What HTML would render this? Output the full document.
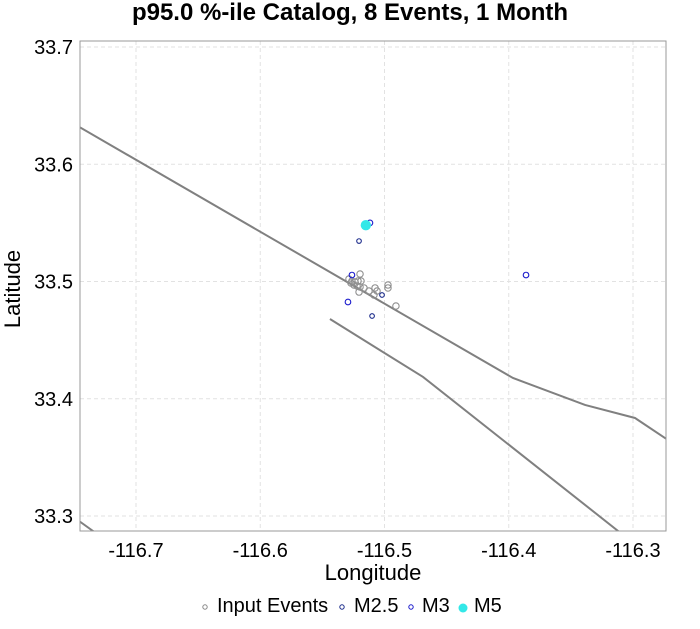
<!DOCTYPE html>
<html><head><meta charset="utf-8"><style>
body{margin:0;background:#fff;font-family:"Liberation Sans",sans-serif}
svg text{font-family:"Liberation Sans",sans-serif}
</style></head><body>
<svg id="chart" width="700" height="624">
<text x="350" y="20" text-anchor="middle" font-size="24" font-weight="bold">p95.0 %-ile Catalog, 8 Events, 1 Month</text>
<g id="grid"></g>
<g id="faults"></g>
<g id="pts"></g>
<rect x="80" y="41" width="586" height="490" fill="none" stroke="#999"/>
<g id="ticks"></g>
<text x="373" y="580" text-anchor="middle" font-size="22">Longitude</text>
<text transform="translate(20,289) rotate(-90)" text-anchor="middle" font-size="22">Latitude</text>
<g font-size="20">
<g><circle cx="205" cy="607" r="2.2" fill="none" stroke="#888"/><text x="217" y="612">Input Events</text></g>
<g><circle cx="342" cy="607" r="2.2" fill="none" stroke="#1a2a8a"/><text x="354" y="612">M2.5</text></g>
<g><circle cx="411" cy="607" r="2.2" fill="none" stroke="#1a1acc"/><text x="422" y="612">M3</text></g>
<g><circle cx="463" cy="608" r="4.5" fill="#33e8e8"/><text x="474" y="612">M5</text></g>
</g>
</svg>
<script>
const xTicks=[-116.7,-116.6,-116.5,-116.4,-116.3];
const yTicks=[33.3,33.4,33.5,33.6,33.7];
const inputLon=[-116.5197,-116.5286,-116.5262,-116.5237,-116.5213,-116.5189,-116.527,-116.5246,-116.5221,-116.5197,-116.5165,-116.5205,-116.5125,-116.5076,-116.506,-116.5085,-116.4972,-116.4972,-116.4908];
const inputLat=[33.5064,33.5021,33.5004,33.4996,33.5004,33.5004,33.4987,33.497,33.4962,33.4953,33.4945,33.491,33.4919,33.4945,33.4919,33.4885,33.497,33.4945,33.4791];
const m25Lon=[-116.5205,-116.51,-116.502];
const m25Lat=[33.5345,33.4706,33.4885];
const m3Lon=[-116.5117,-116.5262,-116.5294,-116.3861];
const m3Lat=[33.550,33.5055,33.4825,33.5055];
const m5Lon=[-116.515];
const m5Lat=[33.548];
const fault1Lon=[-116.76,-116.3966,-116.3386,-116.2984,-116.2742,-116.25];
const fault1Lat=[33.6406,33.4177,33.3947,33.3836,33.3665,33.35];
const fault2Lon=[-116.5439,-116.469,-116.312,-116.2944];
const fault2Lat=[33.468,33.4186,33.2872,33.2727];
const fault3Lon=[-116.76,-116.7346,-116.72];
const fault3Lat=[33.3065,33.2872,33.277];

const NS="http://www.w3.org/2000/svg";
const X=v=>136+(v+116.7)*1242.5;
const Y=v=>47+(33.7-v)*1172.5;
function mk(t,a,p){const e=document.createElementNS(NS,t);for(const k in a)e.setAttribute(k,a[k]);p.appendChild(e);return e;}
const grid=document.getElementById('grid'),ticks=document.getElementById('ticks');
xTicks.forEach(v=>{
 const l=mk('line',{x1:X(v),x2:X(v),y1:41,y2:531,stroke:'#e2e2e2','stroke-dasharray':'4,3'},grid);
 
 
 const t=mk('text',{x:X(v),y:557,'text-anchor':'middle','font-size':'20'},ticks);t.textContent=v.toFixed(1);
 
 
});
yTicks.forEach(v=>{
 const l=mk('line',{x1:80,x2:666,y1:Y(v),y2:Y(v),stroke:'#e2e2e2','stroke-dasharray':'4,3'},grid);
 
 
 const t=mk('text',{x:73,y:Y(v)+7,'text-anchor':'end','font-size':'20'},ticks);t.textContent=v.toFixed(1);
 
 
});
mk('clipPath',{id:'cp'},document.getElementById('chart'));
mk('rect',{x:80,y:41,width:586,height:490},document.getElementById('cp'));
const faults=document.getElementById('faults');faults.setAttribute('clip-path','url(#cp)');
[[fault1Lon,fault1Lat],[fault2Lon,fault2Lat],[fault3Lon,fault3Lat]].forEach(([lo,la])=>{
 const p=mk('polyline',{points:lo.map((v,i)=>X(v)+','+Y(la[i])).join(' '),fill:'none',stroke:'#808080','stroke-width':2},faults);
 
 
});
const pts=document.getElementById('pts');
function series(lo,la,r,st,fill,name){lo.forEach((v,i)=>{
 const c=mk('circle',{cx:X(v),cy:Y(la[i]),r:r,fill:fill,stroke:st,'stroke-width':1.1},pts);
 
 
});}
series(inputLon,inputLat,3.2,'#909090','none','input-event');
series(m25Lon,m25Lat,2.3,'#1a2a8a','none','m25-event');
series(m3Lon,m3Lat,2.8,'#1a1acc','none','m3-event');
series(m5Lon,m5Lat,5.2,'none','#33e8e8','m5-event');
</script>
</body></html>
